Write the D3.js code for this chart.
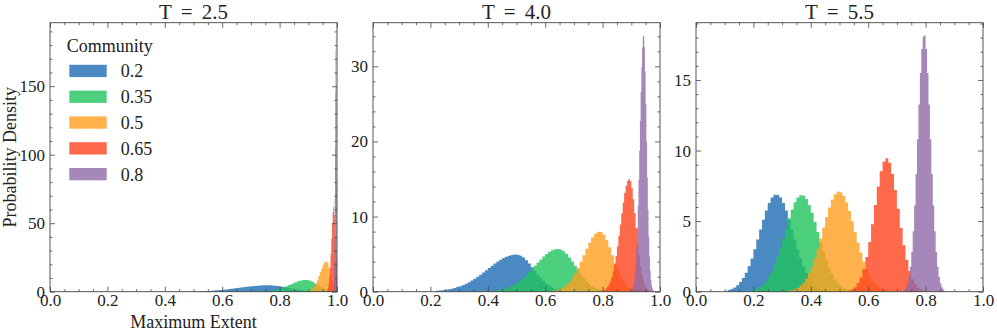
<!DOCTYPE html>
<html>
<head>
<meta charset="utf-8">
<script src="https://cdn.jsdelivr.net/npm/d3@7"></script>
<style>
body { margin: 0; background: #fff; }
text { font-family: "Liberation Serif", serif; fill: #222; }
</style>
</head>
<body>
<script>
// panel titles and legend labels
var titles = ["T = 2.5", "T = 4.0", "T = 5.5"]
var communities = ["0.2", "0.35", "0.5", "0.65", "0.8"]

// tick labels
var xTicks = [0, 0.2, 0.4, 0.6, 0.8, 1.0]
var yTicks25 = [0, 50, 100, 150]
var yTicks40 = [0, 10, 20, 30]
var yTicks55 = [0, 5, 10, 15]
var yMinor = [10, 2, 1]

// histogram bins: first edge and width per community
var binStart25 = [0.47, 0.73, 0.90, 0.96, 0.988]
var binWidth25 = [0.01, 0.01, 0.005, 0.0025, 0.001]
var binStart40 = [0.22, 0.40, 0.62, 0.80, 0.9025]
var binWidth40 = [0.01, 0.01, 0.01, 0.005, 0.0025]
var binStart55 = [0.11, 0.19, 0.32, 0.53, 0.725]
var binWidth55 = [0.01, 0.01, 0.01, 0.01, 0.005]

// densities, T = 2.5
var d25_020 = [0.08,0.11,0.14,0.18,0.23,0.30,0.37,0.47,0.57,0.70,0.85,1.02,1.21,1.41,1.64,1.89,2.15,2.43,2.71,2.99,3.27,3.55,3.80,4.04,4.25,4.42,4.56,4.65,4.69,4.69,4.59,4.41,4.15,3.82,3.45,3.05,2.65,2.25,1.87,1.53,1.22,0.95,0.73,0.55,0.40,0.29,0.21,0.14,0.10,0.06]
var d25_035 = [0.14,0.23,0.37,0.57,0.86,1.25,1.76,2.39,3.15,4.01,4.93,5.87,6.78,7.55,8.15,8.51,8.59,8.18,7.28,6.04,4.67,3.37,2.27,1.43,0.84,0.46,0.23]
var d25_050 = [0.50,0.91,1.58,2.60,4.04,5.99,8.42,11.24,14.25,17.16,19.62,21.3,22.0,20.97,17.75,13.34,8.91,5.28,2.78,1.30]
var d25_065 = [0.15,0.43,1.09,2.52,5.29,10.1,17.4,27.3,38.8,50.0,58.4,62.0,56.0,39.5,21.7,9.3]
var d25_080 = [3.2,8.3,18.9,38.2,67.7,106,145.7,176.3,187,150,77,25]

// densities, T = 4.0
var d40_020 = [0.11,0.15,0.19,0.25,0.31,0.39,0.49,0.61,0.74,0.89,1.07,1.27,1.49,1.73,1.99,2.27,2.56,2.85,3.15,3.45,3.74,4.01,4.26,4.47,4.66,4.80,4.89,4.94,4.93,4.80,4.54,4.18,3.74,3.25,2.75,2.27,1.82,1.42,1.07,0.79,0.56,0.39,0.27,0.18,0.11,0.07,0.04]
var d40_035 = [0.06,0.09,0.13,0.18,0.25,0.34,0.45,0.60,0.77,0.98,1.23,1.52,1.85,2.22,2.61,3.03,3.46,3.89,4.30,4.69,5.03,5.31,5.52,5.66,5.70,5.62,5.39,5.03,4.56,4.03,3.46,2.88,2.34,1.85,1.42,1.06,0.77,0.54,0.37,0.25,0.16,0.10,0.06]
var d40_050 = [0.09,0.15,0.25,0.39,0.60,0.90,1.30,1.80,2.42,3.16,3.98,4.85,5.72,6.53,7.21,7.71,7.97,7.95,7.57,6.86,5.91,4.85,3.79,2.82,1.99,1.34,0.86,0.53,0.30,0.17,0.09]
var d40_065 = [0.16,0.26,0.41,0.63,0.95,1.38,1.96,2.71,3.64,4.75,6.03,7.45,8.93,10.45,11.88,13.13,14.11,14.75,15.0,14.72,13.77,12.3,10.47,8.51,6.59,4.87,3.43,2.31,1.48,0.91,0.53,0.29]
var d40_080 = [0.36,0.63,1.06,1.73,2.72,4.12,6.01,8.44,11.42,14.91,18.77,22.73,26.54,29.9,32.4,33.9,34.1,32.6,29.3,25.0,20.0,15.2,10.9,7.34,4.67,2.80,1.59,0.85,0.43,0.21]

// densities, T = 5.5
var d55_020 = [0.12,0.19,0.30,0.46,0.68,0.97,1.34,1.80,2.36,3.00,3.69,4.40,5.10,5.75,6.29,6.67,6.87,6.85,6.67,6.29,5.75,5.10,4.40,3.69,3.00,2.36,1.80,1.34,0.97,0.68,0.46,0.30,0.19,0.12,0.07]
var d55_035 = [0.08,0.13,0.21,0.33,0.49,0.73,1.02,1.41,1.90,2.47,3.10,3.79,4.51,5.21,5.82,6.33,6.68,6.84,6.80,6.56,6.14,5.59,4.93,4.23,3.51,2.84,2.22,1.69,1.25,0.89,0.62,0.42,0.28,0.17,0.11,0.07]
var d55_050 = [0.06,0.10,0.17,0.27,0.42,0.64,0.93,1.31,1.79,2.37,3.04,3.77,4.54,5.29,5.97,6.53,6.91,7.09,7.05,6.78,6.32,5.71,4.99,4.23,3.47,2.76,2.13,1.59,1.14,0.80,0.54,0.35,0.23,0.14,0.08]
var d55_065 = [0.08,0.17,0.32,0.59,1.00,1.61,2.45,3.52,4.78,6.14,7.45,8.53,9.23,9.45,9.13,8.34,7.20,5.87,4.52,3.29,2.27,1.47,0.90,0.52,0.29,0.15,0.07]
var d55_080 = [0.16,0.32,0.60,1.06,1.77,2.82,4.28,6.11,8.33,10.8,13.27,15.5,17.2,18.08,18.15,17.2,15.5,13.27,10.8,8.33,6.11,4.28,2.82,1.77,1.06,0.60,0.32,0.16]

var colors = ["#1d6cb2", "#1fc45c", "#ff9f1e", "#ff441e", "#8f69a8"]

var panels = [
    {title: titles[0], start: binStart25, width: binWidth25, dens: [d25_020, d25_035, d25_050, d25_065, d25_080], yTicks: yTicks25, minor: yMinor[0]},
    {title: titles[1], start: binStart40, width: binWidth40, dens: [d40_020, d40_035, d40_050, d40_065, d40_080], yTicks: yTicks40, minor: yMinor[1]},
    {title: titles[2], start: binStart55, width: binWidth55, dens: [d55_020, d55_035, d55_050, d55_065, d55_080], yTicks: yTicks55, minor: yMinor[2]}
]

var width = 997,
    height = 333,
    panelLeft = [50, 373, 696],
    panelTop = 22.7,
    panelW = 287,
    panelH = 269,
    frameColor = "#444"

var svg = d3.select("body")
    .append("svg")
    .attr("width", width)
    .attr("height", height)

function styleAxis(sel, size) {
    sel.attr("font-family", "Liberation Serif").attr("font-size", size)
    sel.select(".domain").remove()
    sel.selectAll("line").attr("stroke", frameColor).attr("stroke-width", 0.8)
    sel.selectAll("text").attr("fill", "#222")
}

panels.forEach(function (p, pi) {
    var g = svg.append("g")
        .attr("transform", "translate(" + panelLeft[pi] + "," + panelTop + ")")

    var yMax = d3.max(p.dens, function (d) { return d3.max(d) }) * 1.05

    var x = d3.scaleLinear().domain([0, 1]).range([0, panelW])
    var y = d3.scaleLinear().domain([0, yMax]).range([panelH, 0])

    var area = d3.area()
        .x(function (d) { return x(d[0]) })
        .y0(y(0))
        .y1(function (d) { return y(d[1]) })
        .curve(d3.curveStepAfter)

    p.dens.forEach(function (vals, si) {
        var pts = vals.map(function (v, i) { return [p.start[si] + i * p.width[si], v] })
        pts.push([p.start[si] + vals.length * p.width[si], vals[vals.length - 1]])
        g.append("path")
            .datum(pts)
            .attr("d", area)
            .attr("fill", colors[si])
            .attr("fill-opacity", 0.8)
    })

    // minor ticks
    var xMinorVals = d3.range(0, 1.0001, 0.05).filter(function (v) { return Math.abs(v * 5 - Math.round(v * 5)) > 1e-6 })
    var yMinorVals = d3.range(0, yMax, p.minor).filter(function (v) { return p.yTicks.indexOf(v) < 0 })

    g.append("g").attr("transform", "translate(0," + panelH + ")")
        .call(d3.axisBottom(x).tickValues(xMinorVals).tickFormat("").tickSizeInner(-2.5).tickSizeOuter(0))
        .call(styleAxis, 17)
    g.append("g")
        .call(d3.axisTop(x).tickValues(xMinorVals).tickFormat("").tickSizeInner(-2.5).tickSizeOuter(0))
        .call(styleAxis, 17)
    g.append("g")
        .call(d3.axisLeft(y).tickValues(yMinorVals).tickFormat("").tickSizeInner(-2.5).tickSizeOuter(0))
        .call(styleAxis, 17)
    g.append("g").attr("transform", "translate(" + panelW + ",0)")
        .call(d3.axisRight(y).tickValues(yMinorVals).tickFormat("").tickSizeInner(-2.5).tickSizeOuter(0))
        .call(styleAxis, 17)

    // major ticks
    g.append("g").attr("transform", "translate(0," + panelH + ")")
        .call(d3.axisBottom(x).tickValues(xTicks).tickFormat(d3.format(".1f")).tickSizeInner(-5).tickSizeOuter(0).tickPadding(2))
        .call(styleAxis, 17)
    g.append("g")
        .call(d3.axisTop(x).tickValues(xTicks).tickFormat("").tickSizeInner(-5).tickSizeOuter(0))
        .call(styleAxis, 17)
    g.append("g")
        .call(d3.axisLeft(y).tickValues(p.yTicks).tickFormat(d3.format("d")).tickSizeInner(-5).tickSizeOuter(0).tickPadding(5))
        .call(styleAxis, 17)
    g.append("g").attr("transform", "translate(" + panelW + ",0)")
        .call(d3.axisRight(y).tickValues(p.yTicks).tickFormat("").tickSizeInner(-5).tickSizeOuter(0))
        .call(styleAxis, 17)

    g.append("rect")
        .attr("width", panelW)
        .attr("height", panelH)
        .attr("fill", "none")
        .attr("stroke", frameColor)
        .attr("stroke-width", 0.9)

    svg.append("text")
        .attr("x", panelLeft[pi] + panelW / 2)
        .attr("y", 19)
        .attr("text-anchor", "middle")
        .style("font-size", "21px")
        .style("word-spacing", "4px")
        .text(p.title)
})

// axis labels (first panel only)
svg.append("text")
    .attr("x", panelLeft[0] + panelW / 2)
    .attr("y", 328)
    .attr("text-anchor", "middle")
    .style("font-size", "18px")
    .text("Maximum Extent")

svg.append("text")
    .attr("transform", "translate(16," + (panelTop + panelH / 2) + ") rotate(-90)")
    .attr("text-anchor", "middle")
    .style("font-size", "18px")
    .text("Probability Density")

// legend
var legend = svg.append("g").attr("transform", "translate(66.7,52)")
legend.append("text")
    .style("font-size", "18px")
    .text("Community")

communities.forEach(function (c, i) {
    legend.append("rect")
        .attr("x", 2.6)
        .attr("y", 12.8 + i * 25.8)
        .attr("width", 37.4)
        .attr("height", 12.3)
        .attr("fill", colors[i])
        .attr("fill-opacity", 0.8)
    legend.append("text")
        .attr("x", 54)
        .attr("y", 25.3 + i * 25.8)
        .style("font-size", "18px")
        .text(c)
})

console.log("done")
</script>
</body>
</html>
